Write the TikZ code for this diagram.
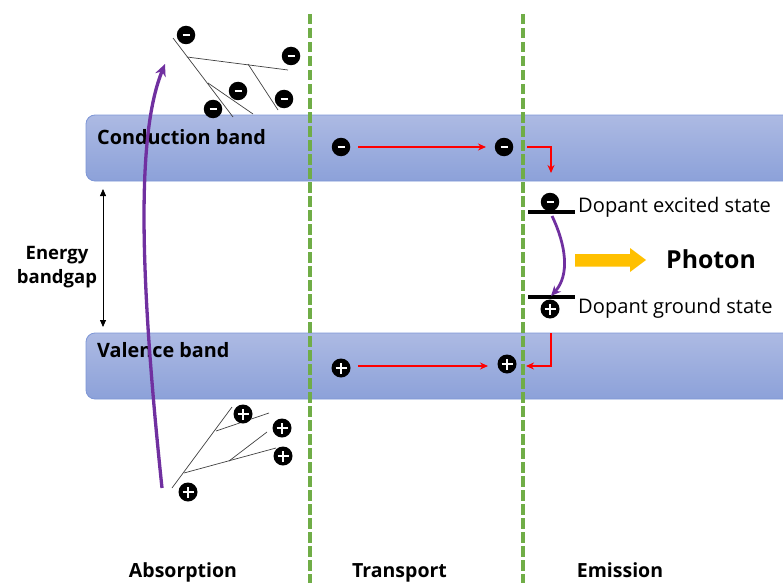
\documentclass[tikz,border=0pt]{standalone}
\usepackage{fontspec}
\setmainfont{Open Sans}
\usetikzlibrary{arrows.meta}
\definecolor{bandtop}{HTML}{ADBAE3}
\definecolor{bandbot}{HTML}{8CA1D9}
\definecolor{bandline}{HTML}{7D96D6}
\definecolor{grn}{HTML}{70AD47}
\definecolor{purp}{HTML}{7030A0}
\definecolor{gold}{HTML}{FFC000}
\newcommand{\myminus}{\rule[-1.3pt]{7pt}{2.6pt}}
\newcommand{\myplus}{\makebox[0pt]{\rule[-1.2pt]{11pt}{2.4pt}}\makebox[0pt]{\rule[-5.5pt]{2.4pt}{11pt}}}
\tikzset{
  band/.style={top color=bandtop, bottom color=bandbot, draw=bandline, line width=0.8pt, rounded corners=9pt},
  divider/.style={grn, line width=3.6pt, dash pattern=on 10.5pt off 3.5pt},
  elec/.style={circle, fill=black, minimum size=18.5pt, inner sep=0pt, text=white},
  hole/.style={circle, fill=black, minimum size=19pt, inner sep=0pt, text=white},
  trail/.style={black!75, line width=0.7pt},
  redarr/.style={red, line width=1.4pt, -{Stealth[length=8pt,width=7pt]}},
  level/.style={black, line width=3.2pt},
  bold lbl/.style={font=\fontsize{19.5}{22}\selectfont\bfseries, inner sep=0pt},
  reg lbl/.style={font=\fontsize{20.1}{22}\selectfont, inner sep=0pt, anchor=base west},
}
\begin{document}
\begin{tikzpicture}[x=1pt,y=-1pt]
\useasboundingbox (0,0) rectangle (783,583);
\clip (0,0) rectangle (783,583);
% bands
\path[band] (86,115) rectangle (800,181);
\path[band] (86,333) rectangle (800,399);
\node[bold lbl, font=\fontsize{19.8}{22}\selectfont\bfseries, anchor=base west] (cb) at (97,144.3) {Conduction band};
\node[bold lbl, font=\fontsize{19.8}{22}\selectfont\bfseries, anchor=base west] (vb) at (97,357) {Valence band};
% dividers
\coordinate (d1t) at (310,14); \coordinate (d1b) at (310,583);
\coordinate (d2t) at (523,14); \coordinate (d2b) at (523,583);
\draw[divider] (d1t) -- (d1b);
\draw[divider] (d2t) -- (d2b);
% bandgap
\coordinate (gt) at (103,189); \coordinate (gb) at (103,327);
\draw[line width=0.8pt, {Triangle[length=7pt,width=6pt]}-{Triangle[length=7pt,width=6pt]}] (gt) -- (gb);
\node[bold lbl, font=\fontsize{18.5}{24}\selectfont\bfseries, anchor=base] (gap1) at (57,259) {Energy};
\node[bold lbl, font=\fontsize{18.5}{24}\selectfont\bfseries, anchor=base] (gap2) at (57,283) {bandgap};
% top cascade
\coordinate (a1) at (173,38); \coordinate (a2) at (233,117);
\coordinate (a3) at (187,57); \coordinate (a4) at (288,70);
\coordinate (a5) at (208,83); \coordinate (a6) at (253,114);
\coordinate (a7) at (248,64); \coordinate (a8) at (278,110);
\draw[trail] (a1) -- (a2);
\draw[trail] (a3) -- (a4);
\draw[trail] (a5) -- (a6);
\draw[trail] (a7) -- (a8);
\node[elec] (e1) at (186,35) {\myminus};
\node[elec] (e2) at (291,56) {\myminus};
\node[elec] (e3) at (238,91) {\myminus};
\node[elec] (e4) at (284,99) {\myminus};
\node[elec] (e5) at (213,109) {\myminus};
% bottom cascade
\coordinate (b1) at (172,488); \coordinate (b2) at (232,407);
\coordinate (b3) at (216,431); \coordinate (b4) at (269,413);
\coordinate (b5) at (184,473); \coordinate (b6) at (276,448);
\coordinate (b7) at (229,461); \coordinate (b8) at (267,432);
\draw[trail] (b1) -- (b2);
\draw[trail] (b3) -- (b4);
\draw[trail] (b5) -- (b6);
\draw[trail] (b7) -- (b8);
\node[hole] (h1) at (243,414) {\myplus};
\node[hole] (h2) at (282,428) {\myplus};
\node[hole] (h3) at (283,456) {\myplus};
\node[hole] (h4) at (188,492) {\myplus};
% absorption arrow
\coordinate (pa) at (162,488); \coordinate (pb) at (165,64);
\draw[purp, line width=3.3pt, -{Stealth[length=12pt,width=11pt]}] (pa) .. controls (138,260) and (138,130) .. (pb);
% transport
\node[elec] (ce1) at (341,147) {\myminus};
\node[elec] (ce2) at (504,147) {\myminus};
\node[hole] (vh1) at (341,368) {\myplus};
\node[hole] (vh2) at (507,364) {\myplus};
\coordinate (t1) at (358,147); \coordinate (t2) at (486,147);
\coordinate (t3) at (358,366); \coordinate (t4) at (488,366);
\draw[redarr] (t1) -- (t2);
\draw[redarr] (t3) -- (t4);
% emission
\coordinate (ex1) at (528,212); \coordinate (ex2) at (575,212);
\coordinate (gr1) at (528,297); \coordinate (gr2) at (575,297);
\node[elec] (de) at (550,202) {\myminus};
\node[hole] (dh) at (550,309) {\myplus};
\draw[level] (ex1) -- (ex2);
\draw[level] (gr1) -- (gr2);
\coordinate (k1) at (527,147); \coordinate (k2) at (551,147); \coordinate (k3) at (551,173);
\draw[redarr] (k1) -- (k2) -- (k3);
\coordinate (m1) at (551,333); \coordinate (m2) at (551,366); \coordinate (m3) at (526,366);
\draw[redarr] (m1) -- (m2) -- (m3);
\coordinate (q1) at (552,216); \coordinate (q2) at (551,296);
\draw[purp, line width=2.8pt, -{Stealth[length=10pt,width=9pt]}] (q1) .. controls (566,245) and (570,275) .. (q2);
\node[reg lbl] (exl) at (578,212) {Dopant excited state};
\node[reg lbl] (grl) at (578,313) {Dopant ground state};
\fill[gold] (575,254) -- (630,254) -- (630,248) -- (646,260) -- (630,272) -- (630,266.5) -- (575,266.5) -- cycle;
\node[bold lbl, font=\fontsize{24.8}{26}\selectfont\bfseries, anchor=base west] (phl) at (666,268) {Photon};
% stage labels
\node[bold lbl, anchor=base] (s1) at (183,577) {Absorption};
\node[bold lbl, anchor=base] (s2) at (399.5,577) {Transport};
\node[bold lbl, anchor=base] (s3) at (620,577) {Emission};
\end{tikzpicture}
\end{document}
